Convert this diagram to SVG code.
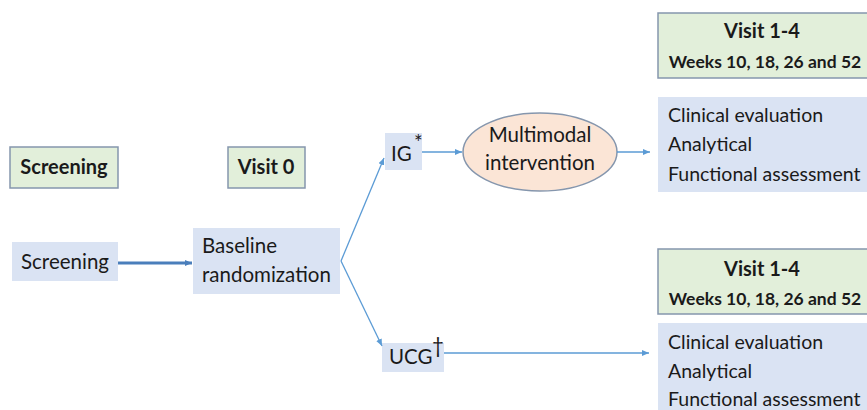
<svg xmlns="http://www.w3.org/2000/svg" width="867" height="410" viewBox="0 0 867 410">
<defs>
<marker id="ah" markerWidth="8" markerHeight="8" refX="7" refY="4" orient="auto" markerUnits="userSpaceOnUse">
<path d="M0,1 L7,4 L0,7 Z" fill="#5b9bd5"/>
</marker>
<marker id="ah2" markerWidth="8" markerHeight="8" refX="7" refY="4" orient="auto" markerUnits="userSpaceOnUse">
<path d="M0,1 L7,4 L0,7 Z" fill="#4a7ebb"/>
</marker>
<style>
.hdr{fill:#e2efda;stroke:#8596ad;stroke-width:1.5}
.box{fill:#dae3f3}
.t{font-family:Lato,"Open Sans","Liberation Sans",sans-serif;font-size:20.5px;fill:#1a1a1a}
.f{font-family:Lato,"Open Sans","Liberation Sans",sans-serif;font-size:19.5px;fill:#1a1a1a}
.b{font-family:Lato,"Open Sans","Liberation Sans",sans-serif;font-size:20px;font-weight:bold;fill:#1a1a1a}
.bs{font-family:Lato,"Open Sans","Liberation Sans",sans-serif;font-size:17.5px;font-weight:bold;fill:#1a1a1a}
.ln{stroke:#5b9bd5;stroke-width:1.3;fill:none}
</style>
</defs>
<rect width="867" height="410" fill="#ffffff"/>
<g id="screening-header"><rect class="hdr" x="10" y="147" width="108" height="41"/><text class="b" x="64" y="174" text-anchor="middle">Screening</text></g>
<g id="visit0-header"><rect class="hdr" x="228" y="147" width="77" height="41"/><text class="b" x="266" y="174" text-anchor="middle">Visit 0</text></g>
<g id="screening"><rect class="box" x="12" y="242" width="106" height="39"/><text class="t" x="65" y="269" text-anchor="middle">Screening</text></g>
<g id="baseline"><rect class="box" x="193" y="228" width="147" height="66"/><text class="t" x="202" y="253">Baseline</text><text class="t" x="202" y="282">randomization</text></g>
<g id="ig"><rect class="box" x="385" y="133" width="37" height="37"/><text class="t" x="391" y="161">IG</text><text class="t" x="414" y="150" font-size="16">*</text></g>
<g id="intervention"><ellipse cx="540" cy="152" rx="77" ry="39" fill="#fbe5d6" stroke="#8596ad" stroke-width="1.5"/><text class="t" x="540" y="142" text-anchor="middle">Multimodal</text><text class="t" x="540" y="170" text-anchor="middle">intervention</text></g>
<g id="visit14-top"><rect class="hdr" x="658" y="13" width="215" height="65"/><text class="b" x="762" y="38" text-anchor="middle">Visit 1-4</text><text class="bs" x="765" y="68" text-anchor="middle">Weeks 10, 18, 26 and 52</text></g>
<g id="assess-top"><rect class="box" x="658" y="97" width="215" height="95"/><text class="f" x="668" y="122">Clinical evaluation</text><text class="f" x="668" y="151">Analytical</text><text class="f" x="668" y="181">Functional assessment</text></g>
<g id="ucg"><rect class="box" x="382" y="343" width="62" height="29"/><text class="t" x="389" y="364" font-size="19">UCG</text><text class="t" x="432" y="353" font-size="14">†</text></g>
<g id="visit14-bottom"><rect class="hdr" x="658" y="249" width="215" height="65"/><text class="b" x="762" y="276" text-anchor="middle">Visit 1-4</text><text class="bs" x="765" y="305" text-anchor="middle">Weeks 10, 18, 26 and 52</text></g>
<g id="assess-bottom"><rect class="box" x="658" y="323" width="215" height="95"/><text class="f" x="668" y="349">Clinical evaluation</text><text class="f" x="668" y="378">Analytical</text><text class="f" x="668" y="406">Functional assessment</text></g>
<g id="connectors">
<line x1="118" y1="263" x2="192" y2="263" stroke="#4a7ebb" stroke-width="3" marker-end="url(#ah2)"/>
<line class="ln" x1="341" y1="261" x2="384" y2="158" marker-end="url(#ah)"/>
<line class="ln" x1="341" y1="261" x2="382" y2="346" marker-end="url(#ah)"/>
<line class="ln" x1="422" y1="152" x2="462" y2="152" marker-end="url(#ah)"/>
<line class="ln" x1="617" y1="152" x2="650" y2="152" marker-end="url(#ah)"/>
<line class="ln" x1="444" y1="353" x2="649" y2="353" marker-end="url(#ah)"/>
</g>
</svg>
